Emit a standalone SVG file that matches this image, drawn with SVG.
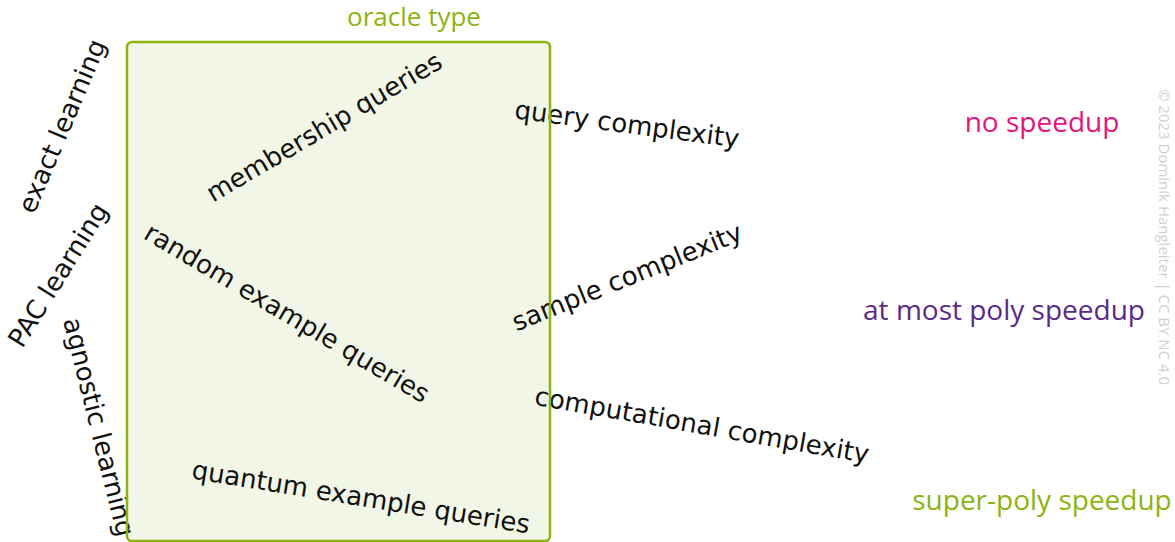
<svg xmlns="http://www.w3.org/2000/svg" width="1175" height="542" viewBox="0 0 1175 542">
<style>
.lbl{font-family:"DejaVu Sans",sans-serif;font-size:26px;fill:#111;text-anchor:middle;dominant-baseline:central}
.sp{font-family:"Open Sans","Noto Sans",sans-serif;font-size:28px;text-anchor:middle}
</style>
<rect width="1175" height="542" fill="#ffffff"/>
<g id="box-fill"><rect x="127" y="42" width="423" height="499" rx="5" fill="#f2f6e6"/></g>
<g id="oracle-type"><text class="sp" x="414" y="26" fill="#8db311" style="font-size:26px">oracle type</text></g>
<g id="membership"><text class="lbl" transform="translate(324,127) rotate(-30.5)">membership queries</text></g>
<g id="random"><text class="lbl" transform="translate(287,313) rotate(30.6)">random example queries</text></g>
<g id="quantum"><text class="lbl" transform="translate(361,497) rotate(9.3)">quantum example queries</text></g>
<g id="query"><text class="lbl" transform="translate(627,124) rotate(7.5)">query complexity</text></g>
<g id="sample"><text class="lbl" transform="translate(627,277) rotate(-22)">sample complexity</text></g>
<g id="computational"><text class="lbl" transform="translate(702,425) rotate(10)">computational complexity</text></g>
<g id="exact"><text class="lbl" transform="translate(62,126) rotate(-67)">exact learning</text></g>
<g id="pac"><text class="lbl" transform="translate(58,275) rotate(-58)">PAC learning</text></g>
<g id="agnostic"><text class="lbl" transform="translate(99,427) rotate(76)">agnostic learning</text></g>
<g id="box-border"><rect x="127" y="42" width="423" height="499" rx="5" fill="none" stroke="#8db311" stroke-width="2.5"/></g>
<g id="no-speedup"><text class="sp" x="1042" y="132" fill="#e5157a">no speedup</text></g>
<g id="poly-speedup"><text class="sp" x="1004" y="320" fill="#5b2a86">at most poly speedup</text></g>
<g id="superpoly-speedup"><text class="sp" x="1042" y="510" fill="#8db311">super-poly speedup</text></g>
<g id="copyright"><text transform="translate(1159,237) rotate(90)" text-anchor="middle" font-family="Open Sans, sans-serif" font-size="15" fill="#d0d0d0">© 2023 Dominik Hangleiter | CC BY NC 4.0</text></g>
</svg>
